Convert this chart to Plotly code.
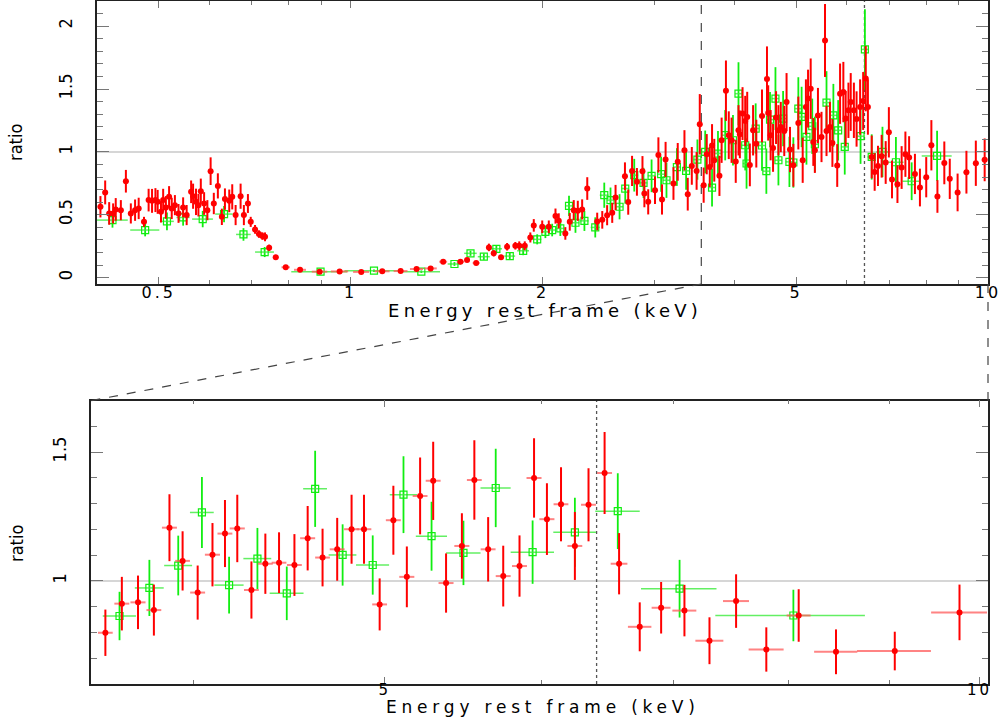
import math
import plotly.graph_objects as go

# ---------------- data: full band (top panel) ----------------
top_red_E = [0.405,0.412,0.418,0.424,0.428,0.436,0.444,0.452,0.459,0.465,0.474,0.482,0.488,0.494,0.498,0.504,0.508,0.513,0.519,0.524,
             0.530,0.537,0.546,0.553,0.562,0.566,0.572,0.577,0.582,0.589,0.596,0.603,0.610,0.619,0.628,0.635,0.645,0.652,0.660,0.672,
             0.680,0.690,0.697,0.708,0.718,0.727,0.734,0.745,0.763,0.791,0.833,0.894,0.961,1.039,1.121,1.198,1.269,1.335,1.397,1.487,
             1.523,1.574,1.648,1.677,1.722,1.760,1.813,1.839,1.876,1.914,1.938,1.998,2.046,2.096,2.121,2.172,2.207,2.239,2.272,2.308,
             2.351,2.437,2.482,2.526,2.573,2.604,2.694,2.726,2.764,2.813,2.870,2.890,2.930,3.003,3.04,3.08,3.12,3.21,3.26,3.34,
             3.38,3.43,3.49,3.53,3.58,3.62,3.66,3.69,3.72,3.79,3.82,3.88,3.92,3.96,4.02,4.06,4.08,4.12,4.16,4.19,
             4.23,4.28,4.33,4.42,4.50,4.52,4.56,4.60,4.65,4.69,4.73,4.79,4.83,4.89,4.95,5.04,5.12,5.18,5.22,5.27,
             5.32,5.35,5.41,5.48,5.55,5.58,5.65,5.70,5.80,5.86,5.93,5.98,6.04,6.09,6.16,6.22,6.30,6.37,6.43,6.48,
             6.57,6.64,6.72,6.81,6.91,6.99,7.07,7.21,7.32,7.42,7.52,7.68,7.82,8.00,8.15,8.33,8.54,8.71,8.96,9.25,
             9.57,9.88]
top_red_ratio = [0.564,0.678,0.511,0.511,0.543,0.537,0.767,0.511,0.537,0.551,0.444,0.617,0.611,0.617,0.603,0.524,0.617,0.559,0.643,0.551,
                 0.577,0.511,0.559,0.498,0.683,0.648,0.603,0.577,0.688,0.590,0.537,0.847,0.590,0.730,0.484,0.625,0.611,0.643,0.498,0.648,
                 0.498,0.590,0.444,0.384,0.347,0.331,0.325,0.238,0.162,0.083,0.063,0.048,0.050,0.046,0.051,0.053,0.069,0.074,0.127,0.127,
                 0.140,0.117,0.241,0.194,0.162,0.246,0.254,0.254,0.254,0.320,0.416,0.405,0.405,0.490,0.452,0.352,0.444,0.537,0.532,0.543,
                 0.709,0.447,0.460,0.497,0.516,0.638,0.807,0.601,0.849,0.762,0.847,0.670,0.603,0.696,0.976,0.622,0.940,0.749,0.921,1.013,
                 0.664,0.889,0.849,1.220,0.736,0.982,0.881,1.051,0.934,0.810,1.093,1.487,1.133,1.093,0.924,1.172,1.140,1.305,1.246,1.278,
                 0.897,1.172,1.066,1.286,1.579,1.310,1.133,1.032,1.273,1.172,1.198,1.167,1.397,1.019,0.894,1.230,0.934,1.357,1.424,1.503,
                 1.079,1.013,1.289,1.119,1.886,1.167,1.198,1.071,0.892,1.463,1.476,1.265,1.331,1.397,1.331,1.262,1.357,1.405,1.583,1.357,
                 0.960,0.841,0.889,0.966,0.916,1.156,0.781,0.744,0.876,0.982,0.955,0.825,0.717,0.799,1.053,0.646,0.913,0.786,0.678,0.839,
                 0.910,0.937]
top_red_yerr = [0.085,0.095,0.09,0.08,0.09,0.08,0.09,0.08,0.085,0.085,0.04,0.09,0.095,0.095,0.095,0.085,0.09,0.09,0.085,0.085,
                0.08,0.075,0.08,0.08,0.09,0.10,0.105,0.09,0.10,0.09,0.08,0.11,0.085,0.10,0.065,0.085,0.09,0.10,0.08,0.10,
                0.08,0.075,0.04,0.035,0.03,0.03,0.035,0.025,0.02,0.012,0.01,0.008,0.008,0.008,0.008,0.008,0.01,0.01,0.012,0.012,
                0.015,0.015,0.03,0.025,0.02,0.03,0.03,0.035,0.035,0.04,0.05,0.05,0.05,0.06,0.06,0.05,0.07,0.08,0.08,0.08,
                0.09,0.07,0.07,0.08,0.08,0.10,0.11,0.10,0.12,0.11,0.12,0.11,0.10,0.11,0.14,0.12,0.14,0.13,0.15,0.16,
                0.13,0.15,0.15,0.24,0.14,0.16,0.16,0.17,0.17,0.16,0.18,0.24,0.19,0.18,0.17,0.20,0.19,0.21,0.20,0.20,
                0.17,0.20,0.19,0.21,0.26,0.22,0.20,0.19,0.21,0.20,0.20,0.20,0.23,0.18,0.17,0.21,0.18,0.22,0.23,0.24,
                0.19,0.18,0.22,0.20,0.29,0.20,0.20,0.19,0.17,0.24,0.24,0.22,0.22,0.23,0.22,0.22,0.22,0.23,0.26,0.22,
                0.17,0.15,0.16,0.17,0.17,0.20,0.15,0.15,0.17,0.18,0.17,0.16,0.15,0.16,0.20,0.13,0.17,0.16,0.15,0.17,
                0.18,0.17]
top_red_xerr = [0.004,0.004,0.004,0.004,0.004,0.004,0.004,0.004,0.004,0.004,0.005,0.004,0.004,0.004,0.004,0.004,0.004,0.004,0.004,0.004,
                0.004,0.005,0.005,0.005,0.005,0.005,0.005,0.005,0.005,0.005,0.005,0.005,0.005,0.005,0.005,0.005,0.005,0.005,0.005,0.006,
                0.006,0.006,0.006,0.006,0.006,0.006,0.006,0.007,0.008,0.012,0.018,0.025,0.03,0.03,0.03,0.03,0.03,0.03,0.02,0.02,
                0.015,0.02,0.015,0.012,0.015,0.015,0.012,0.012,0.012,0.012,0.012,0.015,0.015,0.012,0.012,0.012,0.012,0.012,0.012,0.012,
                0.014,0.014,0.014,0.014,0.014,0.014,0.015,0.015,0.015,0.015,0.015,0.015,0.015,0.017,0.017,0.017,0.017,0.018,0.018,0.018,
                0.018,0.02,0.02,0.02,0.02,0.02,0.02,0.02,0.02,0.02,0.02,0.02,0.022,0.022,0.022,0.022,0.022,0.022,0.022,0.022,
                0.024,0.024,0.024,0.024,0.024,0.024,0.024,0.025,0.025,0.025,0.025,0.025,0.025,0.026,0.026,0.026,0.027,0.027,0.027,0.028,
                0.028,0.028,0.028,0.029,0.029,0.029,0.03,0.03,0.03,0.03,0.03,0.03,0.032,0.032,0.032,0.032,0.033,0.033,0.033,0.034,
                0.04,0.04,0.04,0.045,0.045,0.045,0.05,0.05,0.05,0.05,0.05,0.055,0.06,0.06,0.06,0.065,0.07,0.07,0.08,0.09,
                0.10,0.10]

top_grn_E = [0.423,0.476,0.515,0.546,0.586,0.633,0.679,0.733,0.897,1.088,1.291,1.455,1.542,1.618,1.693,1.777,1.865,1.962,2.021,2.071,
             2.133,2.201,2.253,2.327,2.420,2.500,2.557,2.642,2.697,2.786,2.881,2.966,3.07,3.13,3.25,3.36,3.50,3.60,3.69,3.77,
             3.87,3.98,4.06,4.16,4.18,4.32,4.42,4.49,4.55,4.64,4.69,4.77,4.88,4.95,5.04,5.10,5.19,5.30,5.35,5.58,
             5.72,5.82,5.96,6.31,6.41,6.57,6.83,7.17,7.59,8.32]
top_grn_ratio = [0.458,0.379,0.448,0.479,0.466,0.506,0.344,0.204,0.048,0.056,0.048,0.109,0.194,0.167,0.230,0.172,0.214,0.305,0.365,0.379,
                 0.392,0.571,0.437,0.452,0.400,0.656,0.617,0.564,0.709,0.815,0.754,0.810,0.823,0.775,0.880,0.850,0.939,1.000,0.717,0.987,
                 1.133,1.093,1.463,1.053,0.908,1.186,1.051,0.847,1.257,1.424,0.934,1.265,0.921,0.916,1.344,1.278,1.119,1.204,1.061,1.392,
                 1.291,1.172,1.040,1.125,1.815,0.960,1.000,0.918,0.767,0.968]
top_grn_yerr = [0.06,0.05,0.07,0.065,0.065,0.065,0.05,0.04,0.01,0.01,0.01,0.015,0.02,0.025,0.03,0.03,0.035,0.04,0.05,0.05,
                0.06,0.08,0.08,0.08,0.08,0.10,0.10,0.10,0.12,0.13,0.12,0.13,0.14,0.14,0.15,0.15,0.16,0.17,0.15,0.18,
                0.20,0.20,0.25,0.20,0.20,0.20,0.20,0.18,0.22,0.25,0.20,0.22,0.20,0.20,0.25,0.24,0.22,0.22,0.22,0.25,
                0.25,0.24,0.22,0.22,0.32,0.18,0.20,0.20,0.15,0.20]
top_grn_xerr = [0.024,0.025,0.013,0.013,0.022,0.02,0.018,0.025,0.09,0.11,0.09,0.035,0.035,0.035,0.035,0.035,0.04,0.03,0.025,0.025,
                0.03,0.03,0.03,0.035,0.04,0.04,0.035,0.035,0.035,0.04,0.04,0.04,0.04,0.04,0.045,0.045,0.05,0.05,0.05,0.05,
                0.05,0.05,0.05,0.055,0.055,0.055,0.055,0.055,0.06,0.06,0.06,0.06,0.065,0.065,0.065,0.065,0.07,0.07,0.07,0.07,
                0.08,0.08,0.08,0.09,0.09,0.1,0.15,0.2,0.25,0.45]

# ---------------- data: zoomed band (bottom panel) ----------------
bot_red_E = [3.61,3.68,3.75,3.82,3.89,3.95,4.02,4.09,4.15,4.21,4.28,4.35,4.42,4.50,4.57,4.65,4.73,4.81,4.88,4.97,
             5.05,5.13,5.21,5.29,5.37,5.47,5.55,5.64,5.74,5.85,5.95,6.04,6.14,6.24,6.34,6.46,6.57,6.73,6.90,7.09,
             7.30,7.53,7.80,8.10,8.46,9.06,9.77]
bot_red_ratio = [0.799,0.912,0.917,0.887,1.207,1.078,0.955,1.102,1.184,1.204,0.965,1.067,1.071,1.062,1.166,1.091,1.123,1.201,1.201,0.909,
                 1.236,1.016,1.330,1.389,0.992,1.136,1.392,1.123,1.019,1.058,1.400,1.240,1.298,1.136,1.296,1.419,1.067,0.822,0.896,0.885,
                 0.768,0.922,0.734,0.866,0.725,0.728,0.878]
bot_red_yerr = [0.090,0.104,0.104,0.099,0.130,0.115,0.105,0.123,0.130,0.131,0.111,0.117,0.118,0.120,0.125,0.112,0.122,0.134,0.134,0.101,
                0.134,0.118,0.149,0.152,0.115,0.127,0.154,0.125,0.118,0.119,0.154,0.139,0.144,0.132,0.142,0.159,0.119,0.095,0.100,0.100,
                0.091,0.104,0.086,0.102,0.087,0.075,0.108]
bot_red_xerr = [0.031,0.032,0.033,0.033,0.034,0.034,0.035,0.036,0.036,0.037,0.037,0.038,0.038,0.039,0.040,0.040,0.041,0.042,0.042,0.043,
                0.044,0.045,0.045,0.046,0.047,0.048,0.048,0.049,0.050,0.051,0.052,0.053,0.053,0.054,0.055,0.056,0.064,0.092,0.076,0.099,
                0.119,0.114,0.159,0.113,0.213,0.390,0.318]

bot_grn_E = [3.67,3.80,3.93,4.04,4.17,4.31,4.46,4.61,4.76,4.93,5.11,5.28,5.48,5.69,5.94,6.24,6.56,7.05,8.05]
bot_grn_ratio = [0.864,0.973,1.060,1.266,0.984,1.087,0.952,1.358,1.101,1.062,1.335,1.174,1.109,1.361,1.112,1.189,1.271,0.970,0.866]
bot_grn_yerr = [0.094,0.109,0.116,0.138,0.110,0.119,0.104,0.148,0.119,0.115,0.149,0.134,0.125,0.152,0.123,0.134,0.147,0.112,0.100]
bot_grn_xerr = [0.071,0.064,0.064,0.056,0.071,0.070,0.088,0.064,0.077,0.095,0.081,0.096,0.110,0.100,0.150,0.155,0.170,0.310,0.700]

# axis settings
top_xrange = [0.4, 10.0]
top_yrange = [-0.05, 2.2]
bot_xrange = [3.55, 10.1]
bot_yrange = [0.6, 1.7]
zoom_lo = 3.55
fe_line = 6.4
top_xticks = [0.5, 1, 2, 5, 10]
top_xminor = [0.4, 0.6, 0.7, 0.8, 0.9, 3, 4, 6, 7, 8, 9]
top_yticks = [0, 0.5, 1, 1.5, 2]
bot_xticks = [5, 10]
bot_xminor = [4, 6, 7, 8, 9]
bot_yticks = [1, 1.5]
x_title = "Energy rest frame (keV)"
y_title = "ratio"

W, H = 1003, 717
top_xdom = [97 / W, 988 / W]
top_ydom = [1 - 284 / H, 1 - 1 / H]
bot_xdom = [91 / W, 988 / W]
bot_ydom = [1 - 684 / H, 1 - 400.7 / H]

RED = "#ff0000"
RED_LIGHT = "rgba(255,90,90,0.75)"
GRN = "#11ee11"
GRN_LIGHT = "rgba(60,235,60,0.8)"

fig = go.Figure()

def add_ref_lines(xa, ya, xr, yr, show_zoom):
    fig.add_trace(go.Scatter(x=xr, y=[1, 1], mode="lines", xaxis=xa, yaxis=ya,
                             line=dict(color="#c8c8c8", width=1.5), hoverinfo="skip", showlegend=False))
    fig.add_trace(go.Scatter(x=[fe_line, fe_line], y=yr, mode="lines", xaxis=xa, yaxis=ya,
                             line=dict(color="#555555", width=1.3, dash="dot"), hoverinfo="skip", showlegend=False))
    if show_zoom:
        fig.add_trace(go.Scatter(x=[zoom_lo, zoom_lo], y=yr, mode="lines", xaxis=xa, yaxis=ya,
                                 line=dict(color="#555555", width=1.3, dash="dash"), hoverinfo="skip", showlegend=False))

def add_series(xa, ya, E, r, ye, xe, kind):
    if kind == "red":
        fig.add_trace(go.Scatter(
            x=E, y=r, mode="markers", xaxis=xa, yaxis=ya, showlegend=False,
            marker=dict(symbol="circle", color=RED, size=6, line=dict(width=0)),
            error_y=dict(type="data", array=ye, color=RED, thickness=2, width=0),
            error_x=dict(type="data", array=xe, color=RED_LIGHT, thickness=2, width=0)))
    else:
        fig.add_trace(go.Scatter(
            x=E, y=r, mode="markers", xaxis=xa, yaxis=ya, showlegend=False,
            marker=dict(symbol="square-open", color=GRN, size=7, line=dict(width=1.2, color=GRN)),
            error_y=dict(type="data", array=ye, color=GRN, thickness=1.8, width=0),
            error_x=dict(type="data", array=xe, color=GRN_LIGHT, thickness=1.5, width=0)))

add_ref_lines("x", "y", top_xrange, top_yrange, True)
add_series("x", "y", top_grn_E, top_grn_ratio, top_grn_yerr, top_grn_xerr, "green")
add_series("x", "y", top_red_E, top_red_ratio, top_red_yerr, top_red_xerr, "red")

add_ref_lines("x2", "y2", bot_xrange, bot_yrange, False)
add_series("x2", "y2", bot_grn_E, bot_grn_ratio, bot_grn_yerr, bot_grn_xerr, "green")
add_series("x2", "y2", bot_red_E, bot_red_ratio, bot_red_yerr, bot_red_xerr, "red")

XFAM = "DejaVu Sans, Liberation Sans, sans-serif"
XFONT = dict(family=XFAM, size=16, color="black")
XFONT_B = dict(family=XFAM, size=15, color="black")
YFONT = dict(family="Liberation Sans Narrow, DejaVu Sans Condensed, Liberation Sans, sans-serif", size=18, color="black")

def spaced(s, px):
    return '<span style="letter-spacing:%gpx">%s</span>' % (px, s)

def xaxis_cfg(dom, rng, ticks, minor, anchor, font, standoff):
    return dict(domain=dom, type="log", range=[math.log10(rng[0]), math.log10(rng[1])], anchor=anchor,
                automargin=False,
                tickmode="array", tickvals=ticks, ticktext=[spaced("%g" % t, 3) for t in ticks],
                ticks="inside", ticklen=7, tickwidth=1.2, tickcolor="#777777",
                minor=dict(tickmode="array", tickvals=minor, ticks="inside", ticklen=4, tickcolor="#777777", showgrid=False),
                showline=True, linecolor="#222222", linewidth=1.5, mirror="allticks",
                showgrid=False, zeroline=False, tickfont=font, ticklabelstandoff=standoff)

def yaxis_cfg(dom, rng, ticks, anchor):
    return dict(domain=dom, range=rng, anchor=anchor, automargin=False,
                tickmode="array", tickvals=ticks, ticktext=[("%g" % t) for t in ticks],
                ticks="inside", ticklen=12, tickwidth=1.2, tickcolor="#777777",
                minor=dict(dtick=0.1, ticks="inside", ticklen=6, tickcolor="#777777", showgrid=False),
                showline=True, linecolor="#222222", linewidth=1.5, mirror="allticks",
                showgrid=False, zeroline=False, tickangle=-90, tickfont=YFONT, ticklabelstandoff=16)

def to_paper_x(E, dom, rng):
    f = (math.log10(E) - math.log10(rng[0])) / (math.log10(rng[1]) - math.log10(rng[0]))
    return dom[0] + f * (dom[1] - dom[0])

# connectors from zoom window in top panel to bottom panel
conn = []
for e_top, e_bot in [(zoom_lo, bot_xrange[0]), (top_xrange[1], bot_xrange[1])]:
    conn.append(dict(type="line", xref="paper", yref="paper",
                     x0=to_paper_x(e_top, top_xdom, top_xrange), y0=top_ydom[0],
                     x1=to_paper_x(e_bot, bot_xdom, bot_xrange), y1=bot_ydom[1],
                     line=dict(color="#444444", width=1.2, dash="dash")))

TFONT = dict(family=XFAM, size=18, color="black")
TFONT_B = dict(family=XFAM, size=17, color="black")
ann = [
    dict(text=y_title, x=16 / W, y=1 - 142 / H, xref="paper", yref="paper", showarrow=False,
         textangle=-90, font=YFONT, xanchor="center", yanchor="middle"),
    dict(text=y_title, x=16 / W, y=1 - 543 / H, xref="paper", yref="paper", showarrow=False,
         textangle=-90, font=YFONT, xanchor="center", yanchor="middle"),
    dict(text=spaced(x_title, 4.3), x=545 / W, y=1 - 310 / H, xref="paper", yref="paper",
         showarrow=False, font=TFONT, xanchor="center", yanchor="middle"),
    dict(text=spaced(x_title, 4.8), x=543 / W, y=0.0, xref="paper", yref="paper",
         showarrow=False, font=TFONT_B, xanchor="center", yanchor="bottom", yshift=-2),
]

fig.update_layout(
    width=W, height=H, margin=dict(l=0, r=0, t=0, b=0, autoexpand=False),
    paper_bgcolor="white", plot_bgcolor="white", showlegend=False,
    xaxis=xaxis_cfg(top_xdom, top_xrange, top_xticks, top_xminor, "y", XFONT, -7),
    yaxis=yaxis_cfg(top_ydom, top_yrange, top_yticks, "x"),
    xaxis2=xaxis_cfg(bot_xdom, bot_xrange, bot_xticks, bot_xminor, "y2", XFONT_B, -9),
    yaxis2=yaxis_cfg(bot_ydom, bot_yrange, bot_yticks, "x2"),
    shapes=conn, annotations=ann,
)

fig.write_html("out.html", config={"displayModeBar": False},
               post_script="document.body.style.margin='0';document.body.style.padding='0';")
